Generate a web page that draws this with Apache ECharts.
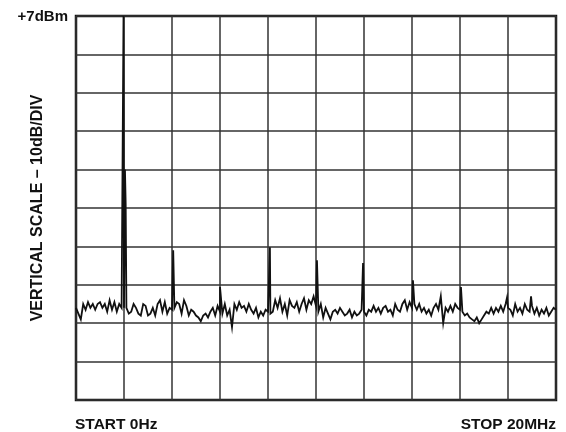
<!DOCTYPE html>
<html>
<head>
<meta charset="utf-8">
<script src="https://cdn.jsdelivr.net/npm/echarts@6/dist/echarts.min.js"></script>
<style>html,body{margin:0;padding:0;background:#fff}#c{width:566px;height:432px}</style>
</head>
<body>
<div id="c"></div>
<script>
// Frequency axis (MHz) and level axis (dB relative to the +7dBm reference level, 10dB/div)
const freqTicks = [0, 2, 4, 6, 8, 10, 12, 14, 16, 18, 20];
const levelTicks = [-100, -90, -80, -70, -60, -50, -40, -30, -20, -10, 0];
const noiseStepMHz = 0.1;
// Noise floor trace sampled every 0.1 MHz from 0 to 20 MHz
const noiseLevels = [
  -76, -77.5, -79, -75, -76.5, -74.5, -76, -75, -76.5, -75, -74.5, -76, -75, -77, -74, -76.5, -74.5, -77, -75, -76,
  -76,
  -76, -77.5, -77, -75, -76, -77.5, -78, -75, -75.5, -78, -77.5, -76, -78, -75, -74, -77, -74.5, -77.5, -76,
  -76.5,
  -76, -74.5, -75, -77.5, -74, -75.5, -78, -76.5, -77, -78, -78.5, -79.5, -78, -77.5, -78.5, -77, -76, -78, -75.5,
  -77,
  -77.5, -75, -78, -76.5, -81, -75, -76.5, -74.5, -76, -75.5, -77, -75, -76.5, -77.5, -76, -78.5, -77, -78, -76.5,
  -77,
  -77.5, -77, -74, -76, -73.5, -77, -75, -78, -74, -75.5, -76, -74.5, -77, -75, -73.5, -76.5, -74, -75, -73,
  -75.5,
  -77, -75, -78.5, -76, -77.5, -79, -77, -76.5, -77.5, -76, -77, -78, -77.5, -76.5, -78.5, -77, -78, -77.5, -76.5,
  -77,
  -78, -76.5, -77, -75.5, -77, -76, -77.5, -76, -75.5, -77, -76.5, -78, -75, -76.5, -77, -75, -74, -76.5, -74.5,
  -76,
  -75, -76.5, -75, -77, -76, -77.5, -76.5, -78, -76, -75, -76.5, -73, -80, -76, -77, -75.5, -77, -75, -76,
  -76.5,
  -77, -78, -77.5, -78.5, -79, -79.5, -78.5, -80, -79, -78, -77, -77.5, -76, -77.5, -76, -77, -75.5, -77, -75,
  -76,
  -76.5, -78, -75, -77, -76, -77.5, -75, -76.5, -77, -75.5, -77.5, -76, -78, -76.5, -77.5, -76, -78, -77, -76, -76.5
];
// Spurs / carrier (MHz, dB rel. reference)
const spikeFreqs  = [1.98, 2.04, 2.07, 4.05, 6.0, 8.08, 10.04, 11.96, 14.04, 16.04, 17.96, 18.96];
const spikeLevels = [0, -40, -49, -61, -70.6, -60.2, -63.6, -64.3, -68.8, -70.6, -73.3, -73];

const refLabel = '+7dBm';
const yTitle = 'VERTICAL SCALE \u2013 10dB/DIV';
const startLabel = 'START 0Hz';
const stopLabel = 'STOP 20MHz';

const pts = [];
noiseLevels.forEach((v, i) => pts.push({f: +(i * noiseStepMHz).toFixed(2), v: v, o: 0}));
spikeFreqs.forEach((f, i) => pts.push({f: f, v: spikeLevels[i], o: 1}));
pts.sort((a, b) => a.f - b.f || a.o - b.o);
const trace = pts.map(p => [p.f, p.v]);

const chart = echarts.init(document.getElementById('c'), null, {renderer: 'canvas'});
const font = 'Liberation Sans, Arial, Helvetica, sans-serif';
chart.setOption({
  animation: false,
  backgroundColor: '#fff',
  grid: {left: 76, top: 16, width: 480, height: 384, show: true, borderColor: '#111', borderWidth: 2.5, backgroundColor: 'transparent'},
  xAxis: {
    type: 'value', min: freqTicks[0], max: freqTicks[freqTicks.length - 1], interval: freqTicks[1] - freqTicks[0],
    axisLine: {show: false}, axisTick: {show: false}, axisLabel: {show: false},
    splitLine: {show: true, lineStyle: {color: '#333', width: 1.5}}
  },
  yAxis: {
    type: 'value', min: levelTicks[0], max: levelTicks[levelTicks.length - 1], interval: levelTicks[1] - levelTicks[0],
    axisLine: {show: false}, axisTick: {show: false}, axisLabel: {show: false},
    splitLine: {show: true, lineStyle: {color: '#333', width: 1.5}}
  },
  series: [{
    type: 'line', data: trace, showSymbol: false, symbol: 'none', clip: true,
    lineStyle: {color: '#111', width: 1.8, join: 'miter'}
  }],
  graphic: [
    {type: 'text', x: 68, y: 17, style: {text: refLabel, font: 'bold 15px ' + font, fill: '#111', align: 'right', verticalAlign: 'middle'}},
    {type: 'text', x: 38, y: 208, rotation: Math.PI / 2, style: {text: yTitle, font: 'bold 16px ' + font, fill: '#111', align: 'center', verticalAlign: 'middle'}},
    {type: 'text', x: 75, y: 425, style: {text: startLabel, font: 'bold 15.5px ' + font, fill: '#111', align: 'left', verticalAlign: 'middle'}},
    {type: 'text', x: 556, y: 425, style: {text: stopLabel, font: 'bold 15.5px ' + font, fill: '#111', align: 'right', verticalAlign: 'middle'}}
  ]
});
</script>
</body>
</html>
